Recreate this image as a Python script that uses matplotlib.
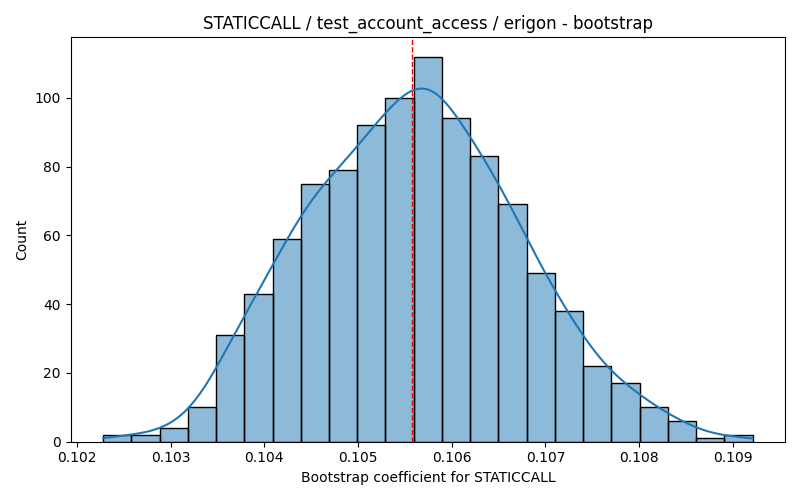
import numpy as np
import matplotlib.pyplot as plt

# bootstrap histogram (1000 resamples)
counts = [2, 2, 4, 10, 31, 43, 59, 75, 79, 92, 100, 112,
          94, 83, 69, 49, 38, 22, 17, 10, 6, 1, 2]
lo = 0.10228
hi = 0.10921
mean_line = 0.10558

edges = np.linspace(lo, hi, len(counts) + 1)
centers = (edges[:-1] + edges[1:]) / 2
binw = edges[1] - edges[0]

fig, ax = plt.subplots(figsize=(8, 5), dpi=100)
ax.hist(centers, bins=edges, weights=counts, color='#1f77b4', alpha=0.5)
ax.hist(centers, bins=edges, weights=counts, histtype='bar', fill=False,
        edgecolor='black', linewidth=1)

# kde like seaborn's (scott bandwidth), scaled to counts
samples = np.repeat(centers, counts)
n = len(samples)
bw = samples.std(ddof=1) * n ** (-1 / 5)
grid = np.linspace(lo, hi, 300)
dens = np.exp(-0.5 * ((grid[:, None] - samples[None, :]) / bw) ** 2).sum(axis=1)
dens = dens / (n * bw * np.sqrt(2 * np.pi))
ax.plot(grid, dens * n * binw, color='#1f77b4', linewidth=1.5)

ax.axvline(mean_line, color='red', linestyle='--', linewidth=1)

ax.set_title('STATICCALL / test_account_access / erigon - bootstrap')
ax.set_xlabel('Bootstrap coefficient for STATICCALL')
ax.set_ylabel('Count')
fig.tight_layout()
fig.savefig('out.png')
